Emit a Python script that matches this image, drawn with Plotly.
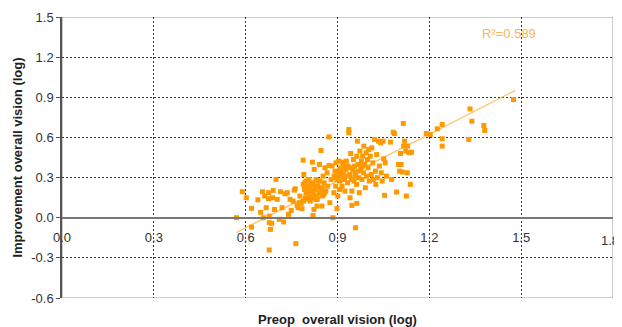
import plotly.graph_objects as go

preop = [0.570,0.589,0.602,0.619,0.619,0.640,0.649,0.655,0.662,0.658,0.667,0.675,0.675,0.677,0.677,0.681,0.677,0.685,0.688,0.690,0.694,0.699,0.703,0.710,0.714,0.719,0.724,0.729,0.736,0.740,0.745,0.749,0.755,0.759,0.762,0.764,0.768,0.771,0.775,0.777,0.781,0.784,0.788,0.788,0.790,0.792,0.794,0.797,0.801,0.805,0.807,0.810,0.812,0.815,0.818,0.820,0.820,0.823,0.824,0.827,0.829,0.830,0.833,0.836,0.840,0.841,0.843,0.846,0.849,0.850,0.853,0.855,0.856,0.859,0.862,0.866,0.868,0.872,0.872,0.875,0.879,0.882,0.885,0.888,0.889,0.892,0.894,0.895,0.898,0.898,0.901,0.902,0.904,0.907,0.908,0.911,0.914,0.915,0.917,0.920,0.923,0.924,0.927,0.930,0.933,0.934,0.937,0.937,0.940,0.941,0.943,0.945,0.947,0.947,0.950,0.952,0.954,0.956,0.959,0.959,0.962,0.963,0.963,0.965,0.967,0.969,0.971,0.973,0.976,0.978,0.980,0.982,0.985,0.986,0.989,0.991,0.994,0.995,0.998,1.000,1.002,1.004,1.007,1.010,1.012,1.015,1.017,1.021,1.024,1.025,1.028,1.030,1.034,1.037,1.041,1.043,1.046,1.049,1.051,1.054,1.056,1.060,1.073,1.077,1.082,1.086,1.093,1.099,1.103,1.106,1.108,1.112,1.115,1.116,1.119,1.123,1.125,1.128,1.129,1.134,1.138,1.142,1.190,1.203,1.226,1.242,1.242,1.242,1.329,1.333,1.339,1.378,1.381,1.475,
         0.799,0.806,0.814,0.821,0.828,0.834,0.838,0.845,0.851,0.858,0.802,0.811,0.795,0.833,0.789,0.908,0.919,0.929,0.942,0.957,0.968,0.981,0.893,0.906]
improvement = [0.000,0.194,0.149,0.070,-0.070,0.134,0.040,0.194,0.162,0.000,0.075,0.142,0.187,0.012,-0.037,-0.087,-0.241,-0.042,0.149,0.204,0.062,0.286,0.137,-0.012,0.194,0.075,-0.032,0.179,0.187,0.025,0.137,0.055,0.124,0.206,0.216,-0.194,0.092,0.075,0.112,0.162,0.107,0.067,0.430,0.249,0.323,0.211,0.266,0.187,0.236,0.162,0.286,0.224,0.199,0.149,0.415,0.261,0.017,0.062,0.361,0.211,0.137,0.286,0.162,0.236,0.187,0.398,0.274,0.502,0.087,0.224,0.311,0.174,0.261,0.373,0.199,0.336,0.236,0.604,0.390,0.112,0.286,0.386,0.000,0.187,0.311,0.348,0.236,0.410,0.286,0.067,0.162,0.336,0.423,0.211,0.274,0.373,0.311,0.236,0.415,0.336,0.286,0.199,0.361,0.311,0.261,0.386,0.659,0.634,0.323,0.149,0.480,0.286,0.199,0.092,0.361,0.435,0.274,0.386,-0.075,0.336,0.249,0.460,0.107,0.572,0.398,0.299,0.187,0.498,0.361,0.423,0.286,0.460,0.336,0.535,0.398,0.224,0.485,0.311,0.435,0.373,0.510,0.274,0.460,0.323,0.522,0.410,0.286,0.585,0.348,0.249,0.472,0.299,0.572,0.386,0.560,0.336,0.274,0.572,0.440,0.167,0.410,0.311,0.565,0.286,0.639,0.629,0.192,0.398,0.348,0.480,0.398,0.341,0.704,0.535,0.572,0.498,0.162,0.336,0.535,0.485,0.249,0.490,0.629,0.622,0.664,0.697,0.590,0.535,0.585,0.813,0.721,0.689,0.652,0.883,
               0.274,0.199,0.249,0.174,0.236,0.137,0.274,0.211,0.162,0.187,0.137,0.124,0.149,0.087,0.124,0.361,0.386,0.423,0.373,0.311,0.348,0.386,0.299,0.323]

trend_x = [0.57, 1.48]
trend_y = [-0.11, 0.95]
r2_label = "R²=0.589"
x_title = "Preop  overall vision (log)"
y_title = "Improvement overall vision (log)"

x_ticks = [0.0, 0.3, 0.6, 0.9, 1.2, 1.5, 1.8]
y_ticks = [-0.6, -0.3, 0.0, 0.3, 0.6, 0.9, 1.2, 1.5]

FONT = "Arial, Liberation Sans, sans-serif"
ORANGE = "#FF9900"
GRID_DASH = "2px,2px"

fig = go.Figure()
fig.add_trace(go.Scatter(x=trend_x, y=trend_y, mode="lines",
                         line=dict(color="#FFBE5C", width=1.2), showlegend=False, hoverinfo="skip"))
fig.add_trace(go.Scatter(x=preop, y=improvement, mode="markers",
                         marker=dict(symbol="square", size=5, color=ORANGE, line=dict(width=0)),
                         showlegend=False))

fig.add_annotation(x=1.46, y=1.38, text=r2_label, showarrow=False,
                   font=dict(family=FONT, size=13, color="#FDB35A"))

fig.add_annotation(xref="paper", yref="paper", x=0.5, y=0, yshift=-21, yanchor="middle",
                   text=f"<b>{x_title}</b>", showarrow=False,
                   font=dict(family=FONT, size=13, color="#222"))

# last x tick label sits at the very edge (plotly would drop it)
fig.add_annotation(x=x_ticks[-1], y=0, yshift=-23, xshift=8, yanchor="middle", xanchor="right",
                   text=f"{x_ticks[-1]:.1f}", showarrow=False,
                   font=dict(family=FONT, size=13, color="#333"))

# plot frame
fig.add_shape(type="rect", xref="x", yref="y", x0=0, x1=1.8, y0=-0.6, y1=1.5,
              line=dict(color="#9a9a9a", width=1), layer="below")

ypos = (0 - (-0.6)) / (1.5 - (-0.6))

fig.update_layout(
    width=614, height=319,
    margin=dict(l=54, r=9, t=9, b=29),
    paper_bgcolor="white", plot_bgcolor="white",
    font=dict(family=FONT, size=12, color="#222"),
    xaxis=dict(range=[0, 1.8], tickvals=x_ticks[:-1], ticktext=[f"{v:.1f}" for v in x_ticks[:-1]],
               showgrid=True, gridcolor="#333", griddash=GRID_DASH, gridwidth=1,
               zeroline=False, showline=True, linecolor="#777", linewidth=1.5,
               anchor="free", position=ypos, ticks="", ticklabelstandoff=8,
               tickfont=dict(size=13, color="#333"), automargin=False),
    yaxis=dict(range=[-0.6, 1.5], tickvals=y_ticks, ticktext=[f"{v:.1f}" for v in y_ticks],
               showgrid=True, gridcolor="#333", griddash=GRID_DASH, gridwidth=1,
               zeroline=False, showline=True, linecolor="#555", linewidth=1.5,
               ticks="outside", ticklen=4, tickcolor="#555",
               tickfont=dict(size=13, color="#333"), automargin=False,
               title=dict(text=f"<b>{y_title}</b>", font=dict(size=13, color="#222"),
                          standoff=6)),
)

fig.write_html("out.html")
